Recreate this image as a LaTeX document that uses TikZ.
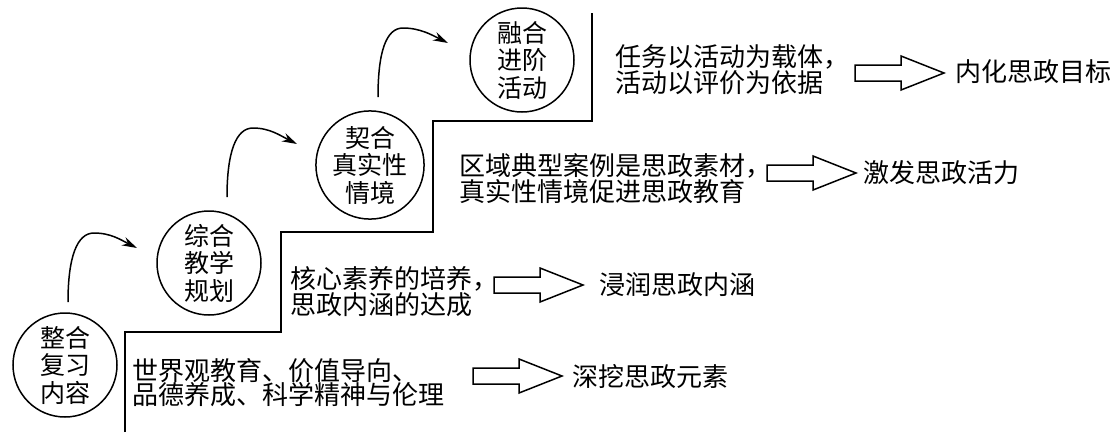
\documentclass[tikz,border=0pt]{standalone}
\usepackage{fontspec}
\setmainfont{Noto Sans CJK SC}
\usetikzlibrary{arrows.meta}
\tikzset{
  stage/.style={circle, draw, line width=1.5pt, minimum size=104pt, inner sep=0pt, align=center,
    font=\fontsize{25pt}{27.5pt}\selectfont},
  desc/.style={anchor=west, inner sep=0pt, align=left, font=\fontsize{26pt}{24.5pt}\selectfont},
  result/.style={anchor=west, inner sep=0pt, font=\fontsize{26pt}{26pt}\selectfont},
  curvearrow/.style={line width=1.5pt, -{Stealth[length=15pt,width=9pt]}},
  stairline/.style={line width=1.6pt},
  hollow/.pic={\draw[line width=1.5pt, line join=miter] (0,-8) -- (46,-8) -- (46,-17) -- (89,0) -- (46,17) -- (46,8) -- (0,8) -- cycle;}
}
\begin{document}
\begin{tikzpicture}[x=1pt,y=-1pt]
\fill[white] (0,0) rectangle (1119,432);
\useasboundingbox (0,0) rectangle (1119,432);

% staircase
\draw[stairline] (125,432) -- (125,332) -- (281,332) -- (281,232) -- (433,232) -- (433,121) -- (592,121) -- (592,13);

% stage circles
\node[stage] (c1) at (65,365) {整合\\复习\\内容};
\node[stage] (c2) at (209,263) {综合\\教学\\规划};
\node[stage] (c3) at (370,165) {契合\\真实性\\情境};
\node[stage] (c4) at (522,60) {融合\\进阶\\活动};

% curved arrows between stages
\coordinate (s1) at (68,302);  \coordinate (p1) at (94,233);  \coordinate (e1) at (137,248);
\coordinate (s2) at (227,197); \coordinate (p2) at (253,128); \coordinate (e2) at (297,144);
\coordinate (s3) at (378,97);  \coordinate (p3) at (403,28);  \coordinate (e3) at (448,43);
\draw[curvearrow] (s1) .. controls +(0,-45) and +(-17,0) .. (p1) .. controls +(17,0) and +(-16,-8) .. (e1);
\draw[curvearrow] (s2) .. controls +(0,-45) and +(-17,0) .. (p2) .. controls +(17,0) and +(-16,-8) .. (e2);
\draw[curvearrow] (s3) .. controls +(0,-45) and +(-17,0) .. (p3) .. controls +(17,0) and +(-16,-8) .. (e3);

% descriptions
\node[desc] (t1) at (615,69.5) {任务以活动为载体，\\活动以评价为依据};
\node[desc] (t2) at (459,178.5) {区域典型案例是思政素材，\\真实性情境促进思政教育};
\node[desc] (t3) at (290,291.5) {核心素养的培养，\\思政内涵的达成};
\node[desc] (t4) at (132,382.5) {世界观教育、价值导向、\\品德养成、科学精神与伦理};

% hollow arrows
\pic at (855,73) {hollow};
\pic at (767,173) {hollow};
\pic at (494,285) {hollow};
\pic at (473,376) {hollow};

% results
\node[result] (r1) at (955,72) {内化思政目标};
\node[result] (r2) at (863,173) {激发思政活力};
\node[result] (r3) at (599,285) {浸润思政内涵};
\node[result] (r4) at (572,377) {深挖思政元素};
\end{tikzpicture}
\end{document}
